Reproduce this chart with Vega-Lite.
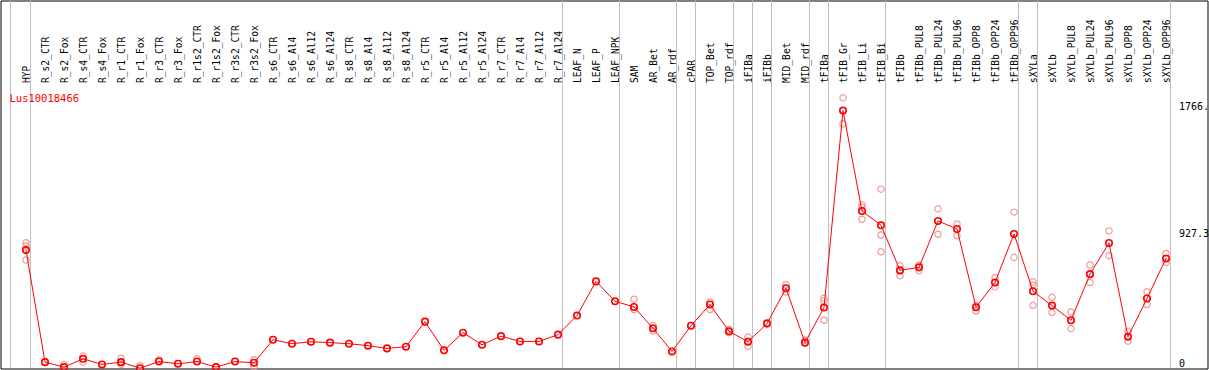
{
  "$schema": "https://vega.github.io/schema/vega-lite/v6.json",
  "autosize": {"type": "none"},
  "padding": {"left": 0.5, "top": 0.5, "right": 1.5, "bottom": 1.5},
  "width": 1207,
  "height": 368,
  "background": "white",
  "config": {
    "view": {"stroke": "black", "strokeWidth": 1},
    "font": "DejaVu Sans Mono"
  },
  "title": {
    "text": "Lus10018466",
    "anchor": "start",
    "frame": "group",
    "color": "red",
    "font": "DejaVu Sans Mono",
    "fontSize": 10.5,
    "fontWeight": "normal",
    "baseline": "top",
    "offset": 0,
    "dx": 9,
    "dy": 104
  },
  "datasets": {
    "means": [
      {"sample": "HYP", "value": 783},
      {"sample": "R_s2_CTR", "value": 42},
      {"sample": "R_s2_Fox", "value": 9},
      {"sample": "R_s4_CTR", "value": 64},
      {"sample": "R_s4_Fox", "value": 27},
      {"sample": "R_r1_CTR", "value": 42},
      {"sample": "R_r1_Fox", "value": 2},
      {"sample": "R_r3_CTR", "value": 46},
      {"sample": "R_r3_Fox", "value": 31},
      {"sample": "R_r1s2_CTR", "value": 46},
      {"sample": "R_r1s2_Fox", "value": 9},
      {"sample": "R_r3s2_CTR", "value": 46},
      {"sample": "R_r3s2_Fox", "value": 38},
      {"sample": "R_s6_CTR", "value": 190},
      {"sample": "R_s6_Al4", "value": 164},
      {"sample": "R_s6_Al12", "value": 177},
      {"sample": "R_s6_Al24", "value": 171},
      {"sample": "R_s8_CTR", "value": 164},
      {"sample": "R_s8_Al4", "value": 151},
      {"sample": "R_s8_Al12", "value": 133},
      {"sample": "R_s8_Al24", "value": 144},
      {"sample": "R_r5_CTR", "value": 310},
      {"sample": "R_r5_Al4", "value": 120},
      {"sample": "R_r5_Al12", "value": 237},
      {"sample": "R_r5_Al24", "value": 157},
      {"sample": "R_r7_CTR", "value": 214},
      {"sample": "R_r7_Al4", "value": 179},
      {"sample": "R_r7_Al12", "value": 179},
      {"sample": "R_r7_Al24", "value": 224},
      {"sample": "LEAF_N", "value": 350},
      {"sample": "LEAF_P", "value": 576},
      {"sample": "LEAF_NPK", "value": 445},
      {"sample": "SAM", "value": 407},
      {"sample": "AR_Bet", "value": 266},
      {"sample": "AR_rdf", "value": 113},
      {"sample": "cPAR", "value": 283},
      {"sample": "TOP_Bet", "value": 423},
      {"sample": "TOP_rdf", "value": 246},
      {"sample": "iFIBa", "value": 177},
      {"sample": "iFIBb", "value": 297},
      {"sample": "MID_Bet", "value": 531},
      {"sample": "MID_rdf", "value": 171},
      {"sample": "tFIBa", "value": 403},
      {"sample": "tFIB_Gr", "value": 1706},
      {"sample": "tFIB_Li", "value": 1042},
      {"sample": "tFIB_Bi", "value": 947},
      {"sample": "tFIBb", "value": 649},
      {"sample": "tFIBb_PUL8", "value": 669},
      {"sample": "tFIBb_PUL24", "value": 976},
      {"sample": "tFIBb_PUL96", "value": 923},
      {"sample": "tFIBb_OPP8", "value": 405},
      {"sample": "tFIBb_OPP24", "value": 569},
      {"sample": "tFIBb_OPP96", "value": 890},
      {"sample": "sXYLa", "value": 511},
      {"sample": "sXYLb", "value": 416},
      {"sample": "sXYLb_PUL8", "value": 319},
      {"sample": "sXYLb_PUL24", "value": 624},
      {"sample": "sXYLb_PUL96", "value": 830},
      {"sample": "sXYLb_OPP8", "value": 210},
      {"sample": "sXYLb_OPP24", "value": 463},
      {"sample": "sXYLb_OPP96", "value": 728}
    ],
    "reps": [
      {"sample": "HYP", "value": 832},
      {"sample": "HYP", "value": 810},
      {"sample": "HYP", "value": 717},
      {"sample": "R_s2_Fox", "value": 27},
      {"sample": "R_s4_CTR", "value": 82},
      {"sample": "R_s4_CTR", "value": 42},
      {"sample": "R_r1_CTR", "value": 68},
      {"sample": "R_r1_CTR", "value": 27},
      {"sample": "R_r1_Fox", "value": 18},
      {"sample": "R_r3_CTR", "value": 58},
      {"sample": "R_r1s2_CTR", "value": 64},
      {"sample": "R_r3s2_Fox", "value": 58},
      {"sample": "R_r3s2_Fox", "value": 13},
      {"sample": "SAM", "value": 458},
      {"sample": "SAM", "value": 390},
      {"sample": "AR_Bet", "value": 285},
      {"sample": "AR_Bet", "value": 248},
      {"sample": "TOP_Bet", "value": 440},
      {"sample": "TOP_Bet", "value": 390},
      {"sample": "TOP_rdf", "value": 259},
      {"sample": "TOP_rdf", "value": 237},
      {"sample": "iFIBa", "value": 208},
      {"sample": "iFIBa", "value": 146},
      {"sample": "iFIBb", "value": 303},
      {"sample": "MID_Bet", "value": 556},
      {"sample": "MID_Bet", "value": 505},
      {"sample": "MID_rdf", "value": 186},
      {"sample": "tFIBa", "value": 465},
      {"sample": "tFIBa", "value": 447},
      {"sample": "tFIBa", "value": 319},
      {"sample": "tFIB_Gr", "value": 1790},
      {"sample": "tFIB_Gr", "value": 1618},
      {"sample": "tFIB_Li", "value": 1082},
      {"sample": "tFIB_Li", "value": 1067},
      {"sample": "tFIB_Li", "value": 987},
      {"sample": "tFIB_Bi", "value": 1186},
      {"sample": "tFIB_Bi", "value": 883},
      {"sample": "tFIB_Bi", "value": 772},
      {"sample": "tFIBb", "value": 679},
      {"sample": "tFIBb", "value": 613},
      {"sample": "tFIBb_PUL8", "value": 684},
      {"sample": "tFIBb_PUL8", "value": 646},
      {"sample": "tFIBb_PUL24", "value": 1056},
      {"sample": "tFIBb_PUL24", "value": 888},
      {"sample": "tFIBb_PUL96", "value": 956},
      {"sample": "tFIBb_PUL96", "value": 878},
      {"sample": "tFIBb_OPP8", "value": 418},
      {"sample": "tFIBb_OPP8", "value": 380},
      {"sample": "tFIBb_OPP24", "value": 600},
      {"sample": "tFIBb_OPP24", "value": 540},
      {"sample": "tFIBb_OPP96", "value": 1034},
      {"sample": "tFIBb_OPP96", "value": 735},
      {"sample": "sXYLa", "value": 573},
      {"sample": "sXYLa", "value": 551},
      {"sample": "sXYLa", "value": 418},
      {"sample": "sXYLb", "value": 471},
      {"sample": "sXYLb", "value": 370},
      {"sample": "sXYLb_PUL8", "value": 374},
      {"sample": "sXYLb_PUL8", "value": 264},
      {"sample": "sXYLb_PUL24", "value": 684},
      {"sample": "sXYLb_PUL24", "value": 569},
      {"sample": "sXYLb_PUL96", "value": 910},
      {"sample": "sXYLb_PUL96", "value": 746},
      {"sample": "sXYLb_OPP8", "value": 246},
      {"sample": "sXYLb_OPP8", "value": 181},
      {"sample": "sXYLb_OPP24", "value": 507},
      {"sample": "sXYLb_OPP24", "value": 423},
      {"sample": "sXYLb_OPP96", "value": 761},
      {"sample": "sXYLb_OPP96", "value": 702}
    ],
    "bounds": [
      {"sample": "HYP"},
      {"sample": "R_r7_Al24"},
      {"sample": "LEAF_NPK"},
      {"sample": "AR_rdf"},
      {"sample": "cPAR"},
      {"sample": "TOP_rdf"},
      {"sample": "iFIBa"},
      {"sample": "iFIBb"},
      {"sample": "MID_rdf"},
      {"sample": "tFIBa"},
      {"sample": "tFIB_Bi"},
      {"sample": "tFIBb_OPP96"},
      {"sample": "sXYLa"},
      {"sample": "sXYLb_OPP96"}
    ]
  },
  "layer": [
    {
      "data": {"name": "bounds"},
      "mark": {"type": "rule", "color": "#c0c0c0", "strokeWidth": 1, "xOffset": 4.5},
      "encoding": {"x": {"field": "sample", "type": "nominal"}}
    },
    {
      "data": {"values": [{"sample": "HYP"}]},
      "mark": {"type": "rule", "color": "#c0c0c0", "strokeWidth": 1, "xOffset": -15.5},
      "encoding": {"x": {"field": "sample", "type": "nominal"}}
    },
    {
      "mark": {"type": "rule", "color": "#c0c0c0", "strokeWidth": 1},
      "encoding": {"y": {"datum": 927.3, "type": "quantitative"}}
    },
    {
      "mark": {"type": "rule", "color": "black", "strokeWidth": 1},
      "encoding": {"y": {"datum": 1875, "type": "quantitative"}}
    },
    {
      "data": {"name": "reps"},
      "mark": {"type": "point", "shape": "circle", "filled": false, "color": "#f09a9a", "strokeWidth": 1.2, "size": 40, "opacity": 1},
      "encoding": {
        "x": {"field": "sample", "type": "nominal"},
        "y": {"field": "value", "type": "quantitative"}
      }
    },
    {
      "data": {"name": "means"},
      "mark": {"type": "line", "color": "red", "strokeWidth": 1},
      "encoding": {
        "x": {
          "field": "sample",
          "type": "nominal",
          "scale": {
            "type": "point",
            "range": [25.5, 1165.5],
            "padding": 0,
            "domain": ["HYP","R_s2_CTR","R_s2_Fox","R_s4_CTR","R_s4_Fox","R_r1_CTR","R_r1_Fox","R_r3_CTR","R_r3_Fox","R_r1s2_CTR","R_r1s2_Fox","R_r3s2_CTR","R_r3s2_Fox","R_s6_CTR","R_s6_Al4","R_s6_Al12","R_s6_Al24","R_s8_CTR","R_s8_Al4","R_s8_Al12","R_s8_Al24","R_r5_CTR","R_r5_Al4","R_r5_Al12","R_r5_Al24","R_r7_CTR","R_r7_Al4","R_r7_Al12","R_r7_Al24","LEAF_N","LEAF_P","LEAF_NPK","SAM","AR_Bet","AR_rdf","cPAR","TOP_Bet","TOP_rdf","iFIBa","iFIBb","MID_Bet","MID_rdf","tFIBa","tFIB_Gr","tFIB_Li","tFIB_Bi","tFIBb","tFIBb_PUL8","tFIBb_PUL24","tFIBb_PUL96","tFIBb_OPP8","tFIBb_OPP24","tFIBb_OPP96","sXYLa","sXYLb","sXYLb_PUL8","sXYLb_PUL24","sXYLb_PUL96","sXYLb_OPP8","sXYLb_OPP24","sXYLb_OPP96"]
          },
          "axis": {
            "orient": "top",
            "offset": -85,
            "title": null,
            "grid": false,
            "ticks": false,
            "tickSize": 0,
            "domain": false,
            "labelAngle": 270,
            "labelAlign": "left",
            "labelBaseline": "middle",
            "labelPadding": 3,
            "labelFont": "DejaVu Sans Mono",
            "labelFontSize": 9.6,
            "labelColor": "black",
            "labelLimit": 0,
            "labelOverlap": false
          }
        },
        "y": {
          "field": "value",
          "type": "quantitative",
          "scale": {"domain": [0, 2434], "nice": false, "zero": true},
          "axis": {
            "orient": "right",
            "values": [0, 927.3, 1766],
            "labelExpr": "datum.value === 1766 ? '1766.' : format(datum.value, '~f')",
            "title": null,
            "grid": false,
            "ticks": false,
            "tickSize": 0,
            "domain": false,
            "labelAlign": "left",
            "labelBaseline": {"condition": {"test": "datum.value === 0", "value": "bottom"}, "value": "top"},
            "labelFlush": false,
            "labelPadding": -29,
            "labelFont": "DejaVu Sans Mono",
            "labelFontSize": 10,
            "labelColor": "black"
          }
        }
      }
    },
    {
      "data": {"name": "means"},
      "mark": {"type": "point", "shape": "circle", "filled": false, "color": "red", "strokeWidth": 1.6, "size": 42, "opacity": 1},
      "encoding": {
        "x": {"field": "sample", "type": "nominal"},
        "y": {"field": "value", "type": "quantitative"}
      }
    }
  ]
}
